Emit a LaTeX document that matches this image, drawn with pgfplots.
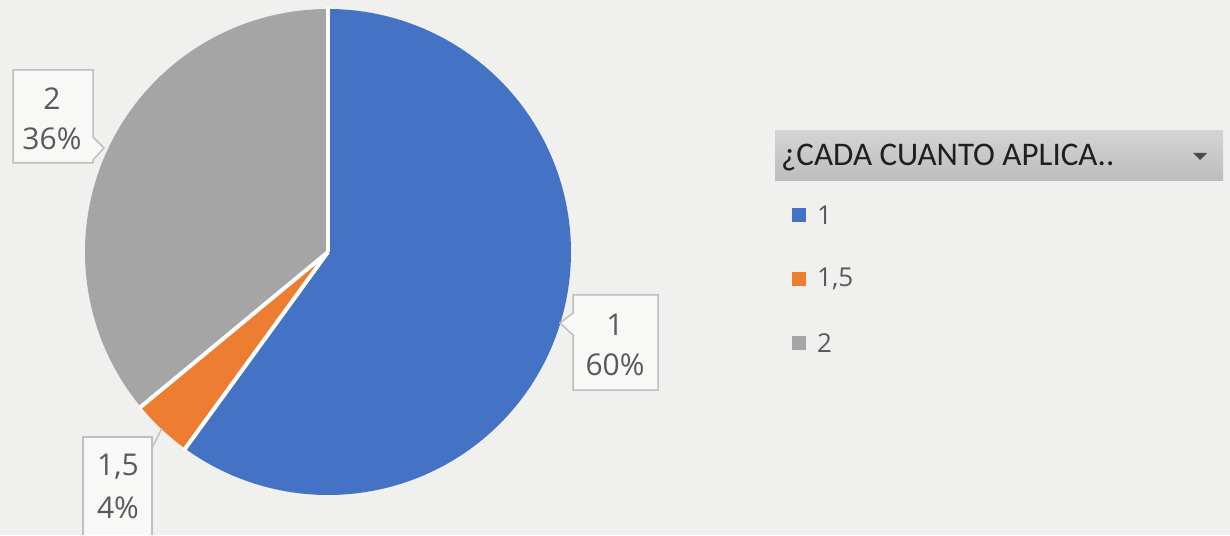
\documentclass[border=0pt]{standalone}
\usepackage{pgfplots}
\pgfplotsset{compat=1.18}
\usepackage{fontspec}
\setmainfont{Open Sans}
\newfontfamily\carlito{Carlito}
\definecolor{bg}{HTML}{F0F0EE}
\definecolor{pblue}{HTML}{4472C4}
\definecolor{porange}{HTML}{ED7D31}
\definecolor{pgray}{HTML}{A5A5A5}
\definecolor{lbl}{HTML}{595959}
\definecolor{boxc}{HTML}{BFBFBF}
\begin{document}
\begin{tikzpicture}
% shares (percent): 1 -> 60, 1,5 -> 4, 2 -> 36
\pgfmathsetmacro{\vA}{60}
\pgfmathsetmacro{\vB}{4}
\pgfmathsetmacro{\vC}{36}
\pgfmathsetmacro{\aO}{90}
\pgfmathsetmacro{\aA}{\aO-3.6*\vA}
\pgfmathsetmacro{\aB}{\aA-3.6*\vB}
\pgfmathsetmacro{\aC}{\aB-3.6*\vC}
\def\cx{328}\def\cy{283}\def\rr{243}
\pgfmathsetmacro{\xO}{\cx+(\rr+2)*cos(\aO)}\pgfmathsetmacro{\yO}{\cy+(\rr+2)*sin(\aO)}
\pgfmathsetmacro{\xA}{\cx+(\rr+2)*cos(\aA)}\pgfmathsetmacro{\yA}{\cy+(\rr+2)*sin(\aA)}
\pgfmathsetmacro{\xB}{\cx+(\rr+2)*cos(\aB)}\pgfmathsetmacro{\yB}{\cy+(\rr+2)*sin(\aB)}
\begin{axis}[x=1pt,y=1pt,xmin=0,xmax=1230,ymin=0,ymax=535,
  hide axis,clip=false,anchor=origin,at={(0,0)},scale only axis]
\fill[bg] (axis cs:0,0) rectangle (axis cs:1230,535);
\addplot[fill=pblue,draw=none,domain=\aA:\aO,samples=150,variable=\t]
  ({\cx+\rr*cos(\t)},{\cy+\rr*sin(\t)}) -- (axis cs:\cx,\cy) -- cycle;
\addplot[fill=porange,draw=none,domain=\aB:\aA,samples=20,variable=\t]
  ({\cx+\rr*cos(\t)},{\cy+\rr*sin(\t)}) -- (axis cs:\cx,\cy) -- cycle;
\addplot[fill=pgray,draw=none,domain=\aC:\aB,samples=120,variable=\t]
  ({\cx+\rr*cos(\t)},{\cy+\rr*sin(\t)}) -- (axis cs:\cx,\cy) -- cycle;
% white separators between slices
\draw[white,line width=4pt] (axis cs:\cx,\cy) -- (axis cs:\xO,\yO);
\draw[white,line width=4pt] (axis cs:\cx,\cy) -- (axis cs:\xA,\yA);
\draw[white,line width=4pt] (axis cs:\cx,\cy) -- (axis cs:\xB,\yB);
% data label 1 / 60%
\draw[boxc,fill=bg!50!white,line width=1.5pt] (axis cs:573,240) -- (axis cs:658,240) -- (axis cs:658,145)
  -- (axis cs:573,145) -- (axis cs:573,200) -- (axis cs:560,212) -- (axis cs:573,222) -- cycle;
\node[lbl,font=\fontsize{30}{32}\selectfont] at (axis cs:615,210) {1};
\node[lbl,font=\fontsize{30}{32}\selectfont] at (axis cs:615,170) {60\%};
% data label 2 / 36%
\draw[boxc,fill=bg!50!white,line width=1.5pt] (axis cs:13,465) -- (axis cs:93,465) -- (axis cs:93,398)
  -- (axis cs:104,387) -- (axis cs:93,375) -- (axis cs:93,372) -- (axis cs:13,372) -- cycle;
\node[lbl,font=\fontsize{30}{32}\selectfont] at (axis cs:52,436) {2};
\node[lbl,font=\fontsize{30}{32}\selectfont] at (axis cs:52,396) {36\%};
% data label 1,5 / 4%
\draw[boxc,line width=1.5pt] (axis cs:151,85) -- (axis cs:162,107);
\fill[bg!50!white] (axis cs:83,98) rectangle (axis cs:152,0);
\draw[boxc,line width=1.5pt] (axis cs:83,0) -- (axis cs:83,98) -- (axis cs:152,98) -- (axis cs:152,0);
\node[lbl,font=\fontsize{30}{32}\selectfont] at (axis cs:118,68) {1,5};
\node[lbl,font=\fontsize{30}{32}\selectfont] at (axis cs:118,27) {4\%};
% legend header
\shade[top color=white!83!black,bottom color=white!74!black] (axis cs:775,404) rectangle (axis cs:1223,354);
\node[anchor=west,black!88,font=\carlito\fontsize{33}{35}\selectfont,inner sep=0pt] at (axis cs:781,377) {¿CADA CUANTO APLICA..};
\fill[black!70] (axis cs:1193,382) -- (axis cs:1207,382) -- (axis cs:1200,375) -- cycle;
% legend entries
\fill[pblue] (axis cs:792,313) rectangle (axis cs:806,327);
\node[anchor=west,lbl,font=\fontsize{26}{28}\selectfont,inner sep=0pt] at (axis cs:817,320) {1};
\fill[porange] (axis cs:792,249) rectangle (axis cs:806,263);
\node[anchor=west,lbl,font=\fontsize{26}{28}\selectfont,inner sep=0pt] at (axis cs:817,256) {1,5};
\fill[pgray] (axis cs:792,185) rectangle (axis cs:806,199);
\node[anchor=west,lbl,font=\fontsize{26}{28}\selectfont,inner sep=0pt] at (axis cs:817,192) {2};
\end{axis}
\end{tikzpicture}
\end{document}
